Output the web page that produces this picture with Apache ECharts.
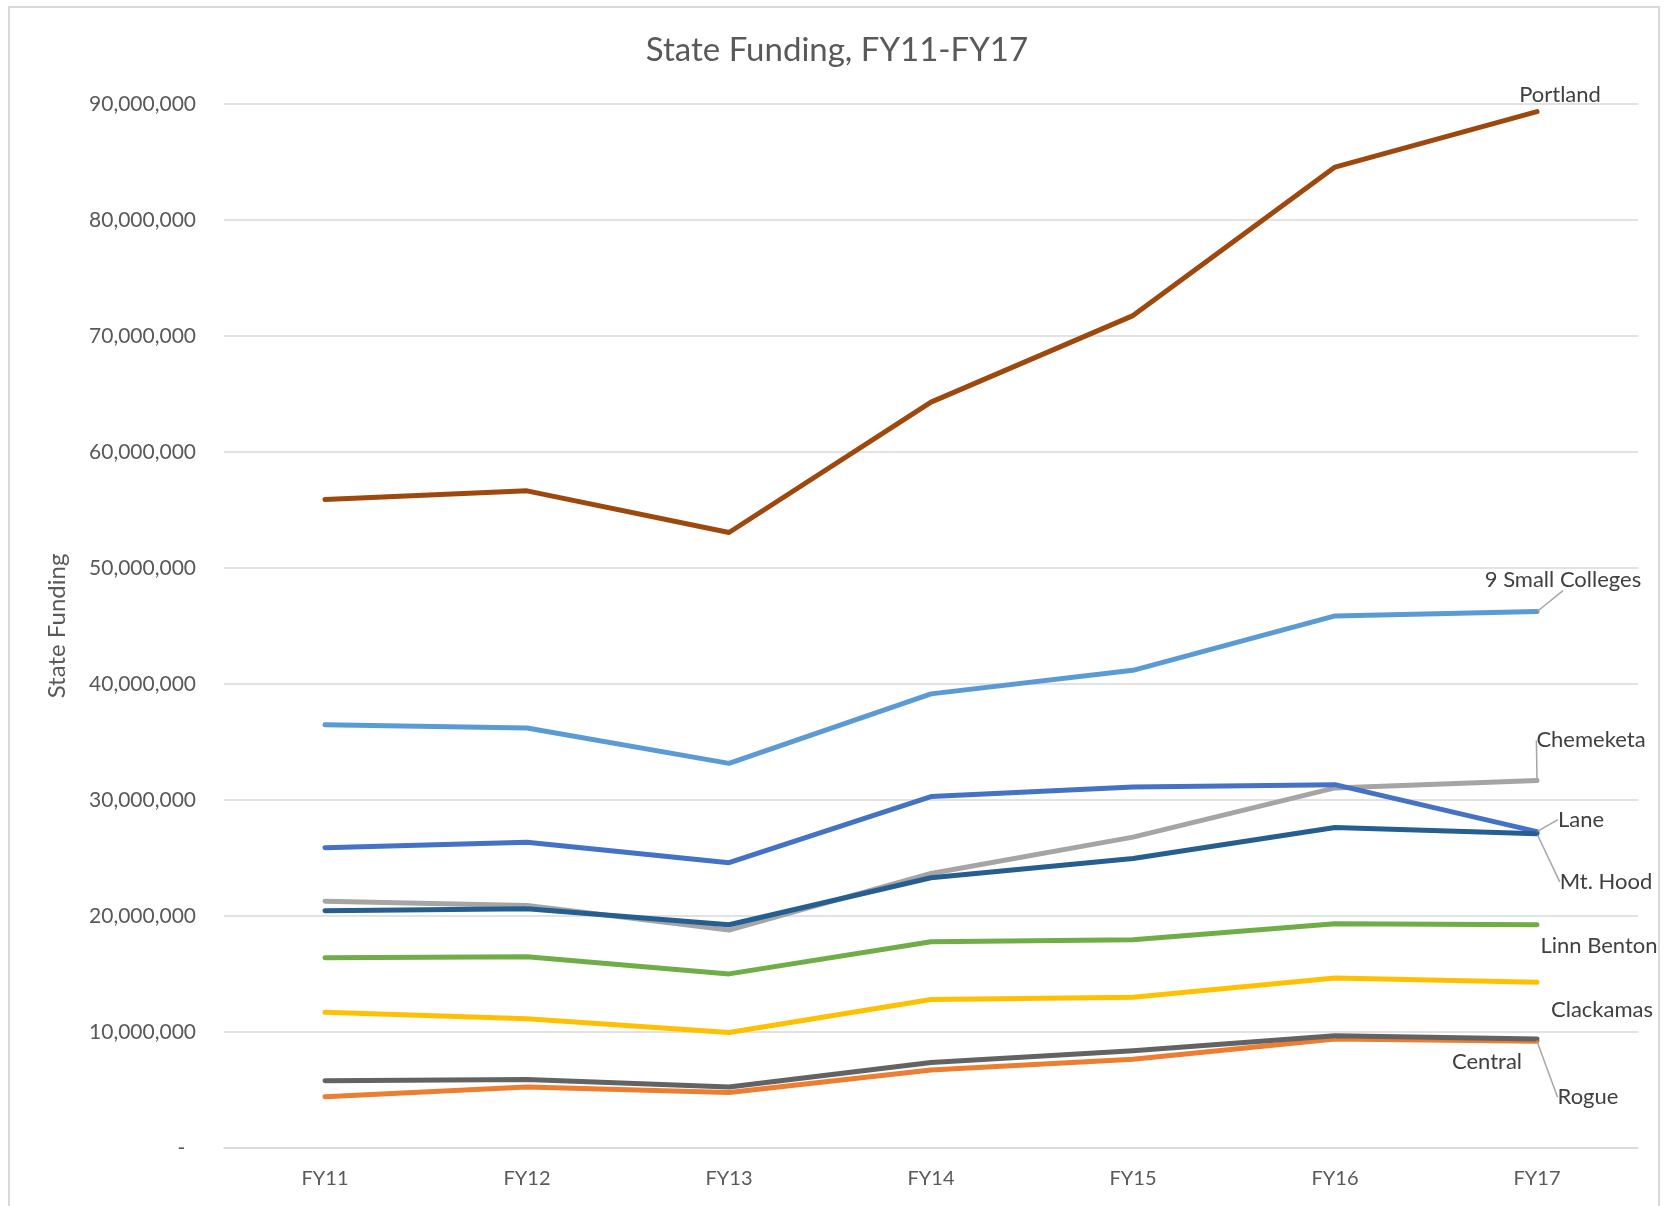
<!DOCTYPE html>
<html>
<head>
<meta charset="utf-8">
<script src="https://cdn.jsdelivr.net/npm/echarts@6/dist/echarts.min.js"></script>
<style>
html,body{margin:0;padding:0;background:#fff;}
#chart{position:absolute;left:0;top:0;width:1674px;height:1206px;}
#frame{position:absolute;left:8px;top:6px;width:1652px;height:1204px;border:2px solid #d9d9d9;box-sizing:border-box;pointer-events:none;}
</style>
</head>
<body>
<div id="chart"></div>
<div id="frame"></div>
<script>
const categories = ['FY11','FY12','FY13','FY14','FY15','FY16','FY17'];
const yTicks = [0,10000000,20000000,30000000,40000000,50000000,60000000,70000000,80000000,90000000];

const rogue       = [4420000, 5250000, 4790000, 6720000, 7650000, 9400000, 9200000];
const central     = [5800000, 5900000, 5250000, 7370000, 8380000, 9670000, 9400000];
const clackamas   = [11700000, 11150000, 9950000, 12800000, 12990000, 14650000, 14280000];
const linnBenton  = [16400000, 16490000, 15010000, 17780000, 17960000, 19340000, 19250000];
const chemeketa   = [21280000, 20910000, 18790000, 23670000, 26800000, 31040000, 31690000];
const lane        = [25880000, 26350000, 24600000, 30300000, 31130000, 31320000, 27270000];
const mtHood      = [20450000, 20630000, 19250000, 23300000, 24960000, 27630000, 27080000];
const smallColleges = [36480000, 36200000, 33160000, 39150000, 41180000, 45870000, 46240000];
const portland    = [55900000, 56650000, 53060000, 64300000, 71760000, 84560000, 89350000];

const FONT = 'Lato, "Open Sans", sans-serif';
const TXT = '#595959';

function mk(name, values, color, dx, dy, guide) {
  const last = values.length - 1;
  return {
    name: name,
    type: 'line',
    data: values.map((v, i) => i === last ? {value: v, label: {show: true}} : v),
    symbol: 'circle',
    symbolSize: 2,
    showSymbol: true,
    itemStyle: {color: color},
    lineStyle: {color: color, width: 5, cap: 'round', join: 'round'},
    label: {
      show: false,
      position: 'inside',
      formatter: '{a}',
      color: '#404040',
      fontFamily: FONT,
      fontSize: 22
    },
    labelLayout: {dx: dx, dy: dy},
    labelLine: {show: !!guide, lineStyle: {color: '#a6a6a6', width: 1.5}},
    emphasis: {disabled: true},
    silent: true
  };
}

const chart = echarts.init(document.getElementById('chart'));
chart.setOption({
  animation: false,
  backgroundColor: '#ffffff',
  title: {
    text: 'State Funding, FY11-FY17',
    left: 'center',
    top: 29,
    textStyle: {fontFamily: FONT, fontSize: 33, fontWeight: 'normal', color: TXT}
  },
  grid: {left: 224, right: 36, top: 104, bottom: 58},
  xAxis: {
    type: 'category',
    data: categories,
    boundaryGap: true,
    axisLine: {show: true, lineStyle: {color: '#d9d9d9', width: 1.5}},
    axisTick: {show: false},
    axisLabel: {fontFamily: FONT, fontSize: 20, color: TXT, margin: 21}
  },
  yAxis: {
    type: 'value',
    min: yTicks[0],
    max: yTicks[yTicks.length - 1],
    interval: yTicks[1] - yTicks[0],
    name: 'State Funding',
    nameLocation: 'middle',
    nameGap: 155,
    nameTextStyle: {fontFamily: FONT, fontSize: 24, color: TXT},
    axisLine: {show: false},
    axisTick: {show: false},
    splitLine: {lineStyle: {color: '#d9d9d9', width: 1.5}},
    axisLabel: {
      fontFamily: FONT, fontSize: 21, color: TXT, margin: 28,
      formatter: v => v === 0 ? '-  ' : v.toLocaleString('en-US')
    }
  },
  series: [
    mk('Rogue', rogue, '#ED7D31', 51, 56, true),
    mk('Central', central, '#636363', -50, 23, false),
    mk('Clackamas', clackamas, '#FFC000', 65, 28, false),
    mk('Linn Benton', linnBenton, '#70AD47', 62, 21, false),
    mk('Chemeketa', chemeketa, '#A5A5A5', 54, -40, true),
    mk('Lane', lane, '#4472C4', 44, -12, true),
    mk('Mt. Hood', mtHood, '#255E91', 69, 48, true),
    mk('9 Small Colleges', smallColleges, '#5B9BD5', 26, -32, true),
    mk('Portland', portland, '#9E480E', 23, -17, false)
  ]
});
</script>
</body>
</html>
